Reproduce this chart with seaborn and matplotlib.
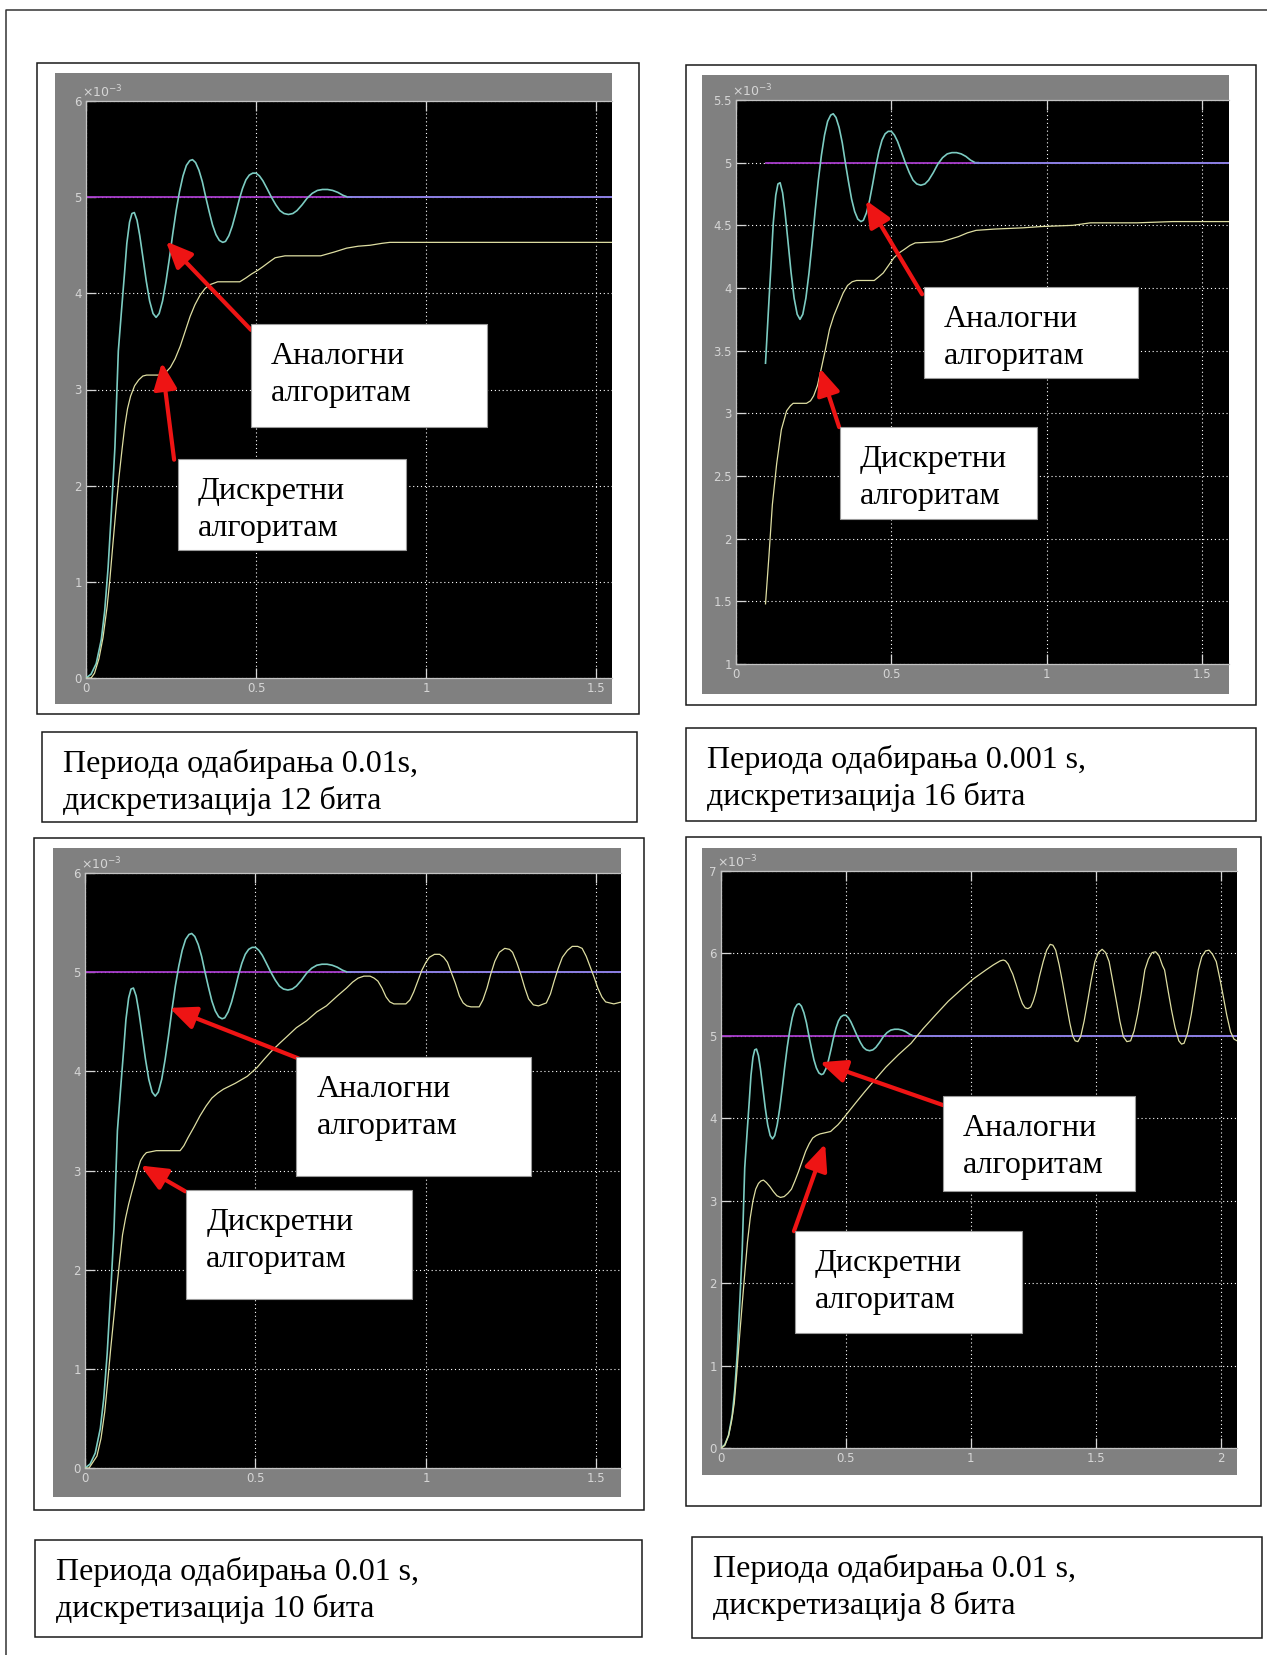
import numpy as np
import pandas as pd
import matplotlib
matplotlib.use("Agg")
import matplotlib.pyplot as plt
from matplotlib.patches import Rectangle
from matplotlib.lines import Line2D
from matplotlib.ticker import FuncFormatter
import matplotlib.transforms as mtransforms
import seaborn as sns

# ---------------------------------------------------------------------------
# Step responses (time in s, output in units of 1e-3)
# ---------------------------------------------------------------------------
# Continuous (analog) PID loop - identical in every scope window
analog_t = [0.000, 0.015, 0.030, 0.045, 0.055, 0.065, 0.075, 0.085, 0.095, 0.105,
            0.113, 0.120, 0.128, 0.135, 0.142, 0.150, 0.158, 0.167, 0.177, 0.187,
            0.197, 0.206, 0.215, 0.225, 0.235, 0.245, 0.255, 0.265, 0.275, 0.285,
            0.295, 0.305, 0.313, 0.322, 0.332, 0.342, 0.352, 0.362, 0.372, 0.382,
            0.392, 0.402, 0.410, 0.420, 0.430, 0.440, 0.450, 0.460, 0.470, 0.480,
            0.490, 0.500, 0.510, 0.520, 0.532, 0.545, 0.558, 0.570, 0.582, 0.595,
            0.608, 0.620, 0.635, 0.650, 0.665, 0.680, 0.695, 0.710, 0.725, 0.740,
            0.755, 0.770, 0.780, 2.100]
analog_y = [0.00, 0.04, 0.15, 0.40, 0.70, 1.15, 1.75, 2.40, 3.40, 3.85,
            4.20, 4.52, 4.74, 4.83, 4.84, 4.76, 4.60, 4.38, 4.13, 3.92,
            3.79, 3.75, 3.79, 3.92, 4.12, 4.36, 4.62, 4.86, 5.06, 5.22,
            5.33, 5.38, 5.39, 5.36, 5.28, 5.16, 5.00, 4.85, 4.71, 4.61,
            4.55, 4.53, 4.54, 4.60, 4.70, 4.83, 4.97, 5.09, 5.18, 5.23,
            5.25, 5.25, 5.22, 5.17, 5.09, 5.00, 4.92, 4.86, 4.83, 4.82,
            4.83, 4.86, 4.92, 4.99, 5.04, 5.07, 5.08, 5.08, 5.07, 5.05,
            5.02, 5.00, 5.00, 5.00]
settle_time = 0.78
setpoint = 5.0

# Discrete PID, Ts = 0.01 s, 12-bit quantisation
d12_t = [0.000, 0.015, 0.025, 0.038, 0.050, 0.062, 0.070, 0.079, 0.088, 0.097,
         0.106, 0.114, 0.122, 0.131, 0.143, 0.155, 0.167, 0.178, 0.219, 0.235,
         0.248, 0.262, 0.277, 0.292, 0.306, 0.320, 0.335, 0.350, 0.364, 0.387,
         0.452, 0.470, 0.486, 0.505, 0.521, 0.540, 0.556, 0.585, 0.690, 0.730,
         0.766, 0.800, 0.835, 0.870, 0.893, 1.600]
d12_y = [0.00, 0.00, 0.05, 0.20, 0.42, 0.74, 1.02, 1.39, 1.75, 2.09,
         2.38, 2.62, 2.80, 2.93, 3.04, 3.10, 3.14, 3.15, 3.15, 3.18,
         3.23, 3.32, 3.45, 3.61, 3.76, 3.88, 3.98, 4.05, 4.09, 4.12,
         4.12, 4.16, 4.20, 4.24, 4.28, 4.33, 4.37, 4.39, 4.39, 4.43,
         4.47, 4.49, 4.50, 4.52, 4.53, 4.53]

# Discrete PID, Ts = 0.001 s, 16-bit quantisation (trace logged from t = 0.095 s)
d16_t = [0.095, 0.106, 0.117, 0.131, 0.146, 0.163, 0.175, 0.184, 0.227, 0.240,
         0.250, 0.262, 0.273, 0.287, 0.301, 0.315, 0.330, 0.345, 0.359, 0.374,
         0.388, 0.445, 0.460, 0.474, 0.491, 0.508, 0.525, 0.543, 0.560, 0.577,
         0.664, 0.690, 0.716, 0.745, 0.773, 0.831, 0.923, 0.980, 1.084, 1.141,
         1.291, 1.406, 1.600]
d16_y = [1.48, 1.86, 2.27, 2.60, 2.87, 3.02, 3.06, 3.08, 3.08, 3.10,
         3.14, 3.22, 3.34, 3.50, 3.67, 3.78, 3.87, 3.96, 4.02, 4.05,
         4.06, 4.06, 4.09, 4.12, 4.18, 4.24, 4.28, 4.31, 4.34, 4.36,
         4.37, 4.39, 4.41, 4.44, 4.46, 4.47, 4.48, 4.49, 4.50, 4.52,
         4.52, 4.53, 4.53]
fine_start = 0.095

# Discrete PID, Ts = 0.01 s, 10-bit quantisation
d10_t = [0.000, 0.012, 0.035, 0.047, 0.058, 0.066, 0.075, 0.084, 0.093, 0.102,
         0.110, 0.119, 0.128, 0.137, 0.145, 0.154, 0.163, 0.172, 0.180, 0.209,
         0.279, 0.290, 0.302, 0.320, 0.337, 0.355, 0.372, 0.389, 0.406, 0.441,
         0.476, 0.505, 0.525, 0.546, 0.570, 0.592, 0.620, 0.650, 0.680, 0.708,
         0.740, 0.767, 0.785, 0.801, 0.818, 0.836, 0.848, 0.859, 0.871, 0.883,
         0.894, 0.906, 0.941, 0.953, 0.964, 0.976, 0.988, 1.000, 1.010, 1.025,
         1.040, 1.052, 1.063, 1.075, 1.086, 1.098, 1.109, 1.120, 1.132, 1.156,
         1.167, 1.179, 1.190, 1.202, 1.215, 1.231, 1.245, 1.254, 1.266, 1.278,
         1.290, 1.301, 1.315, 1.330, 1.353, 1.365, 1.376, 1.388, 1.400, 1.415,
         1.429, 1.445, 1.458, 1.470, 1.481, 1.493, 1.504, 1.516, 1.527, 1.551,
         1.574, 1.600]
d10_y = [0.00, 0.00, 0.12, 0.30, 0.57, 0.85, 1.19, 1.50, 1.81, 2.10,
         2.35, 2.52, 2.66, 2.78, 2.88, 3.00, 3.10, 3.15, 3.18, 3.20,
         3.20, 3.25, 3.33, 3.44, 3.55, 3.65, 3.73, 3.78, 3.82, 3.88,
         3.95, 4.04, 4.12, 4.20, 4.28, 4.35, 4.44, 4.51, 4.60, 4.66,
         4.76, 4.84, 4.90, 4.94, 4.96, 4.96, 4.94, 4.91, 4.84, 4.75,
         4.70, 4.68, 4.68, 4.72, 4.80, 4.91, 5.02, 5.10, 5.15, 5.18,
         5.18, 5.15, 5.10, 4.99, 4.89, 4.76, 4.69, 4.66, 4.65, 4.65,
         4.72, 4.84, 4.98, 5.11, 5.20, 5.24, 5.23, 5.20, 5.10, 4.98,
         4.84, 4.73, 4.67, 4.66, 4.69, 4.78, 4.91, 5.04, 5.15, 5.22,
         5.26, 5.26, 5.24, 5.16, 5.06, 4.95, 4.84, 4.75, 4.70, 4.68,
         4.70, 4.70]

# Discrete PID, Ts = 0.01 s, 8-bit quantisation
d8_t = [0.000, 0.015, 0.031, 0.042, 0.053, 0.063, 0.074, 0.085, 0.096, 0.106,
        0.117, 0.128, 0.139, 0.150, 0.160, 0.170, 0.182, 0.196, 0.210, 0.224,
        0.238, 0.253, 0.268, 0.282, 0.296, 0.310, 0.325, 0.339, 0.353, 0.367,
        0.381, 0.396, 0.425, 0.439, 0.453, 0.468, 0.485, 0.503, 0.540, 0.575,
        0.620, 0.660, 0.710, 0.761, 0.810, 0.861, 0.910, 0.961, 1.010, 1.061,
        1.090, 1.118, 1.130, 1.139, 1.150, 1.160, 1.168, 1.182, 1.196, 1.207,
        1.218, 1.229, 1.240, 1.250, 1.261, 1.275, 1.290, 1.304, 1.318, 1.329,
        1.340, 1.354, 1.368, 1.382, 1.397, 1.408, 1.418, 1.429, 1.440, 1.454,
        1.468, 1.482, 1.497, 1.511, 1.526, 1.540, 1.554, 1.568, 1.583, 1.597,
        1.611, 1.625, 1.640, 1.654, 1.668, 1.683, 1.697, 1.711, 1.726, 1.740,
        1.754, 1.768, 1.776, 1.790, 1.804, 1.818, 1.833, 1.844, 1.854, 1.868,
        1.883, 1.897, 1.911, 1.925, 1.940, 1.954, 1.968, 1.983, 1.997, 2.011,
        2.025, 2.040, 2.054, 2.066, 2.080]
d8_y = [0.00, 0.03, 0.16, 0.32, 0.54, 0.90, 1.34, 1.75, 2.15, 2.50,
        2.79, 3.00, 3.14, 3.21, 3.24, 3.25, 3.22, 3.17, 3.11, 3.06,
        3.04, 3.05, 3.09, 3.14, 3.24, 3.35, 3.48, 3.60, 3.69, 3.76,
        3.79, 3.81, 3.83, 3.84, 3.88, 3.92, 3.98, 4.05, 4.19, 4.32,
        4.48, 4.62, 4.77, 4.91, 5.09, 5.26, 5.42, 5.56, 5.69, 5.80,
        5.86, 5.91, 5.92, 5.91, 5.87, 5.80, 5.75, 5.62, 5.48, 5.39,
        5.34, 5.33, 5.35, 5.42, 5.53, 5.72, 5.90, 6.04, 6.11, 6.10,
        6.04, 5.86, 5.64, 5.40, 5.15, 5.00, 4.94, 4.93, 4.99, 5.18,
        5.42, 5.67, 5.90, 6.01, 6.05, 6.01, 5.90, 5.67, 5.42, 5.18,
        4.99, 4.93, 4.94, 5.06, 5.26, 5.52, 5.80, 5.93, 6.01, 6.02,
        5.97, 5.85, 5.80, 5.55, 5.31, 5.10, 4.94, 4.90, 4.91, 5.03,
        5.26, 5.53, 5.80, 5.96, 6.03, 6.04, 5.99, 5.90, 5.70, 5.48,
        5.25, 5.05, 4.96, 4.94, 4.95]

caption_texts = [
    "Периода одабирања 0.01s,\nдискретизација 12 бита",
    "Периода одабирања 0.001 s,\nдискретизација 16 бита",
    "Периода одабирања 0.01 s,\nдискретизација 10 бита",
    "Периода одабирања 0.01 s,\nдискретизација 8 бита",
]
label_analog = "Аналогни\nалгоритам"
label_discrete = "Дискретни\nалгоритам"

# ---------------------------------------------------------------------------
# Page layout (pixel boxes: left, top, right, bottom)
# ---------------------------------------------------------------------------
W, H, DPI = 1267, 1655, 100

panels = [
    dict(frame=(37, 63, 639, 714), gray=(55, 73, 612, 704), axes=(86, 101, 612, 678),
         xlim=(0, 1.546), ylim=(0, 6), xticks=[0, 0.5, 1, 1.5], yticks=np.arange(0, 6.01, 1),
         disc=(d12_t, d12_y), start=0.0, caption=(42, 732, 637, 822),
         abox=(0.485, 2.61, 1.178, 3.68), aarrow=((0.485, 3.62), (0.235, 4.54)),
         dbox=(0.270, 1.33, 0.940, 2.28), darrow=((0.259, 2.27), (0.223, 3.28))),
    dict(frame=(686, 65, 1256, 705), gray=(702, 75, 1229, 694), axes=(736, 100, 1229, 664),
         xlim=(0, 1.587), ylim=(1, 5.5), xticks=[0, 0.5, 1, 1.5], yticks=np.arange(1, 5.51, 0.5),
         disc=(d16_t, d16_y), start=fine_start, caption=(686, 728, 1256, 821),
         abox=(0.605, 3.28, 1.294, 4.01), aarrow=((0.599, 3.95), (0.418, 4.70)),
         dbox=(0.335, 2.16, 0.969, 2.89), darrow=((0.332, 2.89), (0.270, 3.36))),
    dict(frame=(34, 838, 644, 1510), gray=(53, 848, 621, 1497), axes=(85, 873, 621, 1468),
         xlim=(0, 1.572), ylim=(0, 6), xticks=[0, 0.5, 1, 1.5], yticks=np.arange(0, 6.01, 1),
         disc=(d10_t, d10_y), start=0.0, caption=(35, 1540, 642, 1637),
         abox=(0.620, 2.94, 1.308, 4.14), aarrow=((0.626, 4.13), (0.248, 4.64)),
         dbox=(0.297, 1.70, 0.960, 2.80), darrow=((0.294, 2.79), (0.163, 3.05))),
    dict(frame=(686, 837, 1261, 1506), gray=(702, 848, 1237, 1475), axes=(721, 871, 1237, 1448),
         xlim=(0, 2.066), ylim=(0, 7), xticks=[0, 0.5, 1, 1.5, 2], yticks=np.arange(0, 7.01, 1),
         disc=(d8_t, d8_y), start=0.0, caption=(692, 1537, 1262, 1638),
         abox=(0.889, 3.12, 1.658, 4.27), aarrow=((0.889, 4.16), (0.396, 4.68)),
         dbox=(0.296, 1.40, 1.205, 2.63), darrow=((0.292, 2.63), (0.417, 3.69))),
]

SCOPE_GRAY = "#808080"
TICK_COLOR = "#d6d6d6"
C_ANALOG = "#7cccc2"
C_SETTLED = "#8884e4"   # analog trace lying on the setpoint line
C_DISCRETE = "#dedea2"
C_SETPOINT = "#a83ccc"
C_ARROW = "#ee1414"
SERIF = ["Liberation Serif", "DejaVu Serif"]

plt.rcParams["font.family"] = ["DejaVu Sans"]

fig = plt.figure(figsize=(W / DPI, H / DPI), dpi=DPI)
fig.patch.set_facecolor("white")


def fig_rect(box):
    x0, y0, x1, y1 = box
    return [x0 / W, 1 - y1 / H, (x1 - x0) / W, (y1 - y0) / H]


def fig_box(box, face, edge, lw, z):
    l, b, w, h = fig_rect(box)
    fig.add_artist(Rectangle((l, b), w, h, transform=fig.transFigure, facecolor=face,
                             edgecolor=edge, linewidth=lw, zorder=z))


def trace(ax, t, y, color, lw, alpha=1.0, z=3):
    df = pd.DataFrame({"t": t, "y": y})
    sns.lineplot(data=df, x="t", y="y", ax=ax, color=color, linewidth=lw, alpha=alpha,
                 estimator=None, sort=False, legend=False, zorder=z)


def px_offset(dx, dy):
    return mtransforms.ScaledTranslation(dx / DPI, dy / DPI, fig.dpi_scale_trans)


# page border (left and top edges)
fig.add_artist(Line2D([6 / W, 6 / W, 1.0], [0.0, 1 - 10 / H, 1 - 10 / H],
                      transform=fig.transFigure, color="#333333", linewidth=1.1, zorder=-5))

fmt = FuncFormatter(lambda v, p: f"{v:g}")
at = np.asarray(analog_t)
ay = np.asarray(analog_y)

for cfg, cap in zip(panels, caption_texts):
    fig_box(cfg["frame"], "white", "#1a1a1a", 1.1, -3)
    fig_box(cfg["gray"], SCOPE_GRAY, SCOPE_GRAY, 0, -2)

    ax = fig.add_axes(fig_rect(cfg["axes"]))
    ax.set_zorder(1)
    ax.set_facecolor("black")

    t0 = cfg["start"]
    # setpoint
    trace(ax, [t0, at[-1]], [setpoint, setpoint], C_SETPOINT, 1.3, z=2)
    # analog response: transient, then the settled part lying on the setpoint
    keep = at >= t0 - 1e-9
    trans = keep & (at <= settle_time)
    tail = at >= settle_time - 0.01
    trace(ax, at[trans], ay[trans], C_ANALOG, 1.2, z=3)
    trace(ax, at[tail], ay[tail], C_SETTLED, 1.3, z=3)
    # discrete response
    dt, dy = cfg["disc"]
    trace(ax, dt, dy, C_DISCRETE, 0.9, z=4)

    ax.set_xlabel("")
    ax.set_ylabel("")
    ax.set_xlim(*cfg["xlim"])
    ax.set_ylim(*cfg["ylim"])
    ax.set_xticks(cfg["xticks"])
    ax.set_yticks(cfg["yticks"])
    ax.xaxis.set_major_formatter(fmt)
    ax.yaxis.set_major_formatter(fmt)
    ax.tick_params(which="major", direction="in", length=7, width=0.9, color=TICK_COLOR,
                   labelcolor=TICK_COLOR, labelsize=8.5, pad=3, top=True, right=False)
    ax.grid(True, color="white", linestyle=(0, (1, 2.5)), linewidth=0.8)
    ax.set_axisbelow(True)
    for side in ("top", "left", "bottom"):
        ax.spines[side].set_color("#c4c4c4")
        ax.spines[side].set_linewidth(0.9)
    ax.spines["right"].set_visible(False)

    ax.text(0, 1, r"$\times10^{-3}$", transform=ax.transAxes + px_offset(-4, 1),
            fontsize=9, color=TICK_COLOR, ha="left", va="bottom")

    # labelled call-outs
    for box, arrow, label in ((cfg["abox"], cfg["aarrow"], label_analog),
                              (cfg["dbox"], cfg["darrow"], label_discrete)):
        (tx, ty), (hx, hy) = arrow
        ax.annotate("", xy=(hx, hy), xytext=(tx, ty), zorder=6, annotation_clip=False,
                    arrowprops=dict(arrowstyle="-|>,head_length=0.8,head_width=0.35",
                                    mutation_scale=20, color=C_ARROW, lw=3.0,
                                    shrinkA=0, shrinkB=0))
        bx0, by0, bx1, by1 = box
        ax.add_patch(Rectangle((bx0, by0), bx1 - bx0, by1 - by0, facecolor="white",
                               edgecolor="#9a9a9a", linewidth=0.8, zorder=7, clip_on=False))
        for i, line in enumerate(label.split("\n")):
            ax.annotate(line, xy=(bx0, by1), xycoords="data", xytext=(20, -(40 + 37 * i)),
                        textcoords="offset pixels", fontsize=23, family=SERIF,
                        ha="left", va="baseline", color="black", zorder=8,
                        annotation_clip=False)

    # caption under each scope window
    cx0, cy0, cx1, cy1 = cfg["caption"]
    fig_box(cfg["caption"], "white", "#1a1a1a", 1.1, 0)
    for i, line in enumerate(cap.split("\n")):
        fig.text((cx0 + 21) / W, 1 - (cy0 + 40 + 37 * i) / H, line, fontsize=23,
                 family=SERIF, ha="left", va="baseline", color="black", zorder=2)

fig.savefig("out.png", dpi=DPI, facecolor="white")
